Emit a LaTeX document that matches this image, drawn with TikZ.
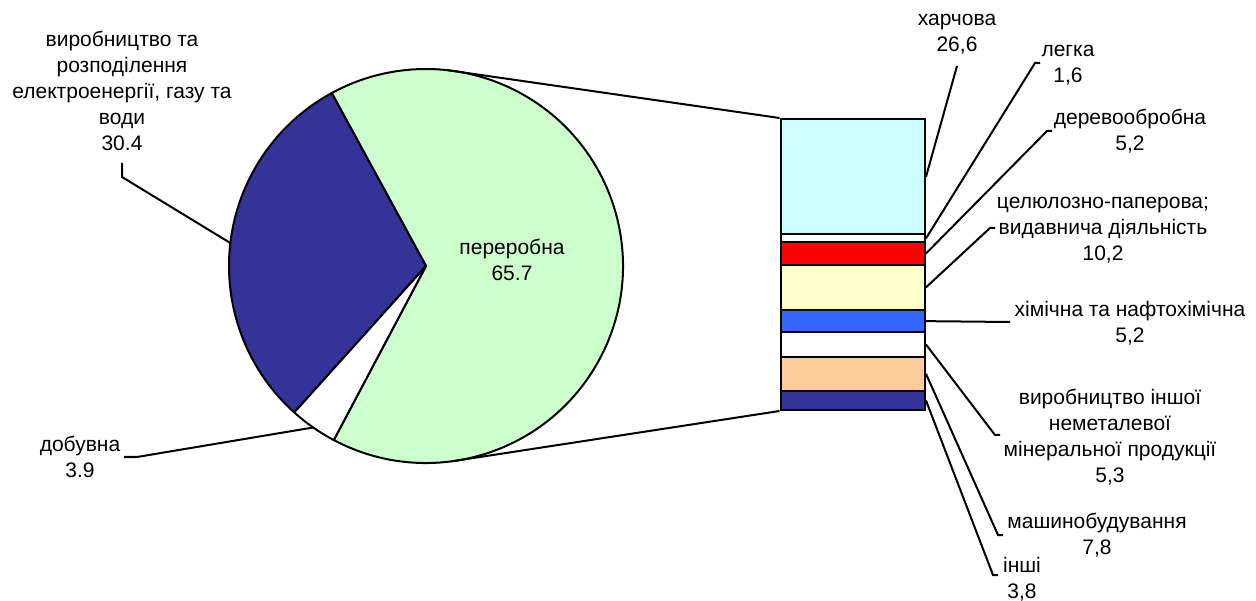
\documentclass[tikz,border=0pt]{standalone}
\usepackage{fontspec}
\setmainfont{Liberation Sans}
\definecolor{energyblue}{HTML}{333399}
\definecolor{procgreen}{HTML}{CCFFCC}
\definecolor{foodcyan}{HTML}{CCFFFF}
\definecolor{woodred}{HTML}{FF0000}
\definecolor{paperyellow}{HTML}{FFFFCC}
\definecolor{chemblue}{HTML}{3366FF}
\definecolor{machpeach}{HTML}{FFCC99}
\tikzset{
  lbl/.style= {align=center, inner sep=0pt, font=\fontsize{21}{26}\selectfont},
  seg/.style= {draw, line width=2pt, minimum width=144.5pt, inner sep=0pt},
  slice/.style= {draw, line width=2pt, line join=round},
  lead/.style= {line width=2pt},
}
\begin{document}
\begin{tikzpicture}[x=1pt, y=-1pt]
  \useasboundingbox (0,0) rectangle (1256,601);
  \coordinate (pc) at (426,266);

  % pie
  \filldraw [slice, fill=procgreen] (pc) -- ++(-242.08:197) arc[start angle=-242.08, end angle=-478.6, radius=197] -- cycle;
  \filldraw [slice, fill=energyblue] (pc) -- ++(-118.6:197) arc[start angle=-118.6, end angle=-228.04, radius=197] -- cycle;
  \filldraw [slice, fill=white] (pc) -- ++(-228.04:197) arc[start angle=-228.04, end angle=-242.08, radius=197] -- cycle;
  \path (pc) ++(-173.3:197) coordinate (enerpt);
  \path (pc) ++(-235.06:197) coordinate (dobpt);
  \path (pc) ++(-83.8:197) coordinate (zoomtop);
  \path (pc) ++(-277.8:197) coordinate (zoombot);

  \node [lbl] (pererlbl) at (512,260) {переробна\\65.7} ;
  \node [lbl] (enerlbl) at (122,90.5) {виробництво та\\розподілення\\електроенергії, газу та\\води\\30.4} ;
  \node [lbl] (doblbl) at (80,456.5) {добувна\\3.9} ;

  % bar
  \node [seg, fill=foodcyan, minimum height=115.5pt] (harch) at (852.75,176.75) {} ;
  \node [seg, fill=white, minimum height=7.8pt] (legka) at (852.75,238.4) {} ;
  \node [seg, fill=woodred, minimum height=22.4pt] (derev) at (852.75,253.5) {} ;
  \node [seg, fill=paperyellow, minimum height=45.3pt] (cel) at (852.75,287.35) {} ;
  \node [seg, fill=chemblue, minimum height=22.3pt] (khim) at (852.75,321.15) {} ;
  \node [seg, fill=white, minimum height=24.4pt] (nemet) at (852.75,344.5) {} ;
  \node [seg, fill=machpeach, minimum height=34.3pt] (mash) at (852.75,373.85) {} ;
  \node [seg, fill=energyblue, minimum height=19pt] (inshi) at (852.75,400.5) {} ;

  \draw [lead] (zoomtop) -- (harch.north west) ;
  \draw [lead] (zoombot) -- (inshi.south west) ;

  % labels
  \node [lbl] (harchlbl) at (957,34.5) {харчова\\26,6} ;
  \node [lbl] (legkalbl) at (1068,65.5) {легка\\1,6} ;
  \node [lbl] (derevlbl) at (1130,131.5) {деревообробна\\5,2} ;
  \node [lbl] (cellbl) at (1103,230) {целюлозно-паперова;\\видавнича діяльність\\10,2} ;
  \node [lbl] (khimlbl) at (1130,323.5) {хімічна та нафтохімічна\\5,2} ;
  \node [lbl] (nemetlbl) at (1110,437) {виробництво іншої\\неметалевої\\мінеральної продукції\\5,3} ;
  \node [lbl] (mashlbl) at (1097,535.5) {машинобудування\\7,8} ;
  \node [lbl] (inshilbl) at (1022,579) {інші\\3,8} ;

  \coordinate (enerend) at (122,163) ;
  \coordinate (enerbend) at (122,177) ;
  \coordinate (dobend) at (124,457) ;
  \coordinate (dobbend) at (137,457) ;
  \coordinate (harchend) at (957,66) ;
  \coordinate (legkabend) at (1035,63) ;
  \coordinate (legkaend) at (1040,63) ;
  \coordinate (derevbend) at (1047,131) ;
  \coordinate (derevend) at (1052,131) ;
  \coordinate (celbend) at (990,228) ;
  \coordinate (celend) at (995,228) ;
  \coordinate (khimend) at (1010,322) ;
  \coordinate (nemetbend) at (995,435) ;
  \coordinate (nemetend) at (1000,435) ;
  \coordinate (mashbend) at (998,535) ;
  \coordinate (mashend) at (1003,535) ;
  \coordinate (inshibend) at (993,575) ;
  \coordinate (inshiend) at (998,575) ;

  % leaders
  \draw [lead] (enerpt) -- (enerbend) -- (enerend) ;
  \draw [lead] (dobpt) -- (dobbend) -- (dobend) ;
  \draw [lead] (harch.east) -- (harchend) ;
  \draw [lead] (legka.east) -- (legkabend) -- (legkaend) ;
  \draw [lead] (derev.east) -- (derevbend) -- (derevend) ;
  \draw [lead] (cel.east) -- (celbend) -- (celend) ;
  \draw [lead] (khim.east) -- (khimend) ;
  \draw [lead] (nemet.east) -- (nemetbend) -- (nemetend) ;
  \draw [lead] (mash.east) -- (mashbend) -- (mashend) ;
  \draw [lead] (inshi.east) -- (inshibend) -- (inshiend) ;
\end{tikzpicture}
\end{document}
